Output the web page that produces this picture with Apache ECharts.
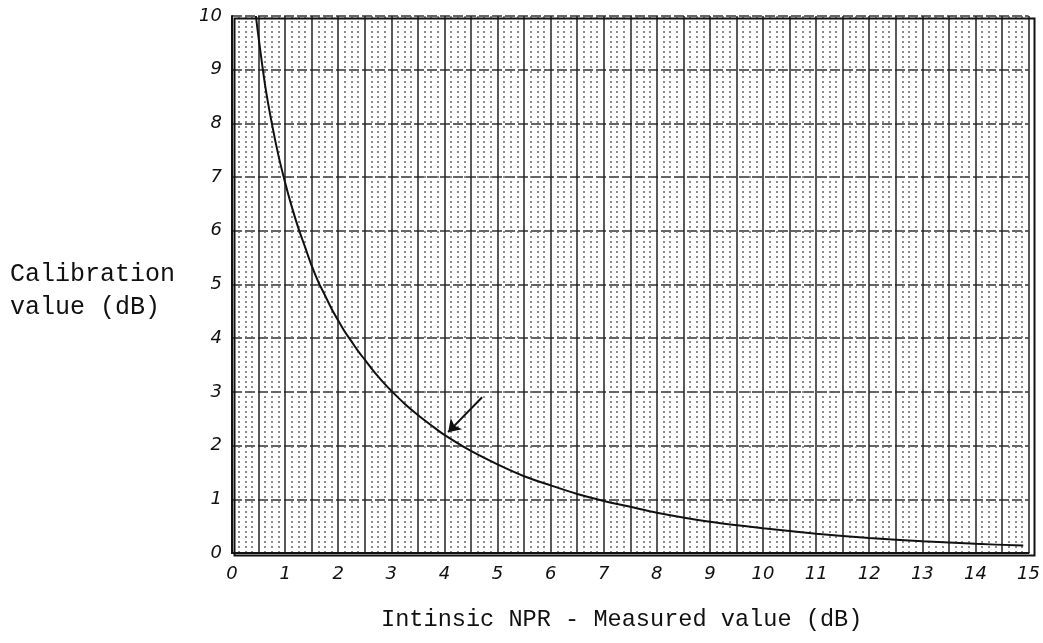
<!DOCTYPE html>
<html><head><meta charset="utf-8">
<script src="https://cdn.jsdelivr.net/npm/echarts@6/dist/echarts.min.js"></script>
<style>html,body{margin:0;padding:0;background:#fff}#c{width:1043px;height:643px}</style>
</head><body><div id="c"></div>
<script>
var xValues = [0.45, 0.5, 0.625, 0.75, 0.875, 1, 1.125, 1.25, 1.375, 1.5, 1.625, 1.75, 1.875, 2, 2.125, 2.25, 2.375, 2.5, 2.625, 2.75, 2.875, 3, 3.25, 3.5, 3.75, 4, 4.5, 5, 5.5, 6, 6.5, 7, 7.5, 8, 9, 10, 11, 12, 13, 14, 14.9];
var yValues = [10, 9.6, 8.7, 8.0, 7.4, 6.9, 6.45, 6.05, 5.7, 5.35, 5.05, 4.8, 4.55, 4.33, 4.12, 3.94, 3.76, 3.6, 3.44, 3.29, 3.15, 3.02, 2.78, 2.57, 2.38, 2.2, 1.9, 1.65, 1.43, 1.26, 1.1, 0.97, 0.86, 0.75, 0.58, 0.46, 0.36, 0.28, 0.22, 0.17, 0.14];
var arrowFrom = [4.71, 2.9];
var arrowTo = [4.07, 2.25];
var xTitle = 'Intinsic NPR - Measured value (dB)';
var yTitle = 'Calibration\nvalue (dB)';

var data = xValues.map(function (x, i) { return [x, yValues[i]]; });
var chart = echarts.init(document.getElementById('c'));
chart.setOption({
  animation: false,
  backgroundColor: '#fff',
  grid: { left: 232, right: 11, top: 16, bottom: 90 },
  xAxis: {
    type: 'value', min: 0, max: 15, interval: 0.5,
    axisLine: { show: true, lineStyle: { color: '#111', width: 2 } },
    axisTick: { show: false },
    axisLabel: {
      color: '#111', fontSize: 18, fontStyle: 'italic', fontFamily: 'DejaVu Sans', margin: 12,
      formatter: function (v) { return Number.isInteger(v) ? String(v) : ''; }
    },
    splitLine: { show: true, lineStyle: { color: '#222', width: 1.5 } },
    minorTick: { show: false, splitNumber: 4 },
    minorSplitLine: { show: true, lineStyle: { color: '#666', width: 1.5, type: [2, 3] } }
  },
  yAxis: {
    type: 'value', min: 0, max: 10, interval: 1,
    axisLine: { show: true, lineStyle: { color: '#111', width: 2 } },
    axisTick: { show: false },
    axisLabel: { color: '#111', fontSize: 18, fontStyle: 'italic', fontFamily: 'DejaVu Sans', margin: 10 },
    splitLine: { show: true, lineStyle: { color: '#333', width: 1.5, type: [10, 3] } }
  },
  graphic: [
    { type: 'rect', left: 232, top: 16, shape: { width: 800, height: 537 }, style: { fill: 'none', stroke: '#111', lineWidth: 2 }, silent: true, z: 100 },
    { type: 'text', left: 10, top: 258, style: { text: yTitle, font: '25px "Liberation Mono"', fill: '#111', lineHeight: 33 } },
    { type: 'text', left: 381, top: 608, style: { text: xTitle, font: '23.6px "Liberation Mono"', fill: '#111' } }
  ],
  series: [{
    type: 'line', data: data, smooth: 0.3, showSymbol: false,
    lineStyle: { color: '#111', width: 2 },
    markLine: {
      silent: true, symbol: ['none', 'arrow'], symbolSize: 12,
      lineStyle: { color: '#111', width: 2, type: 'solid' },
      label: { show: false },
      data: [[{ coord: arrowFrom }, { coord: arrowTo }]]
    }
  }]
});
</script></body></html>
